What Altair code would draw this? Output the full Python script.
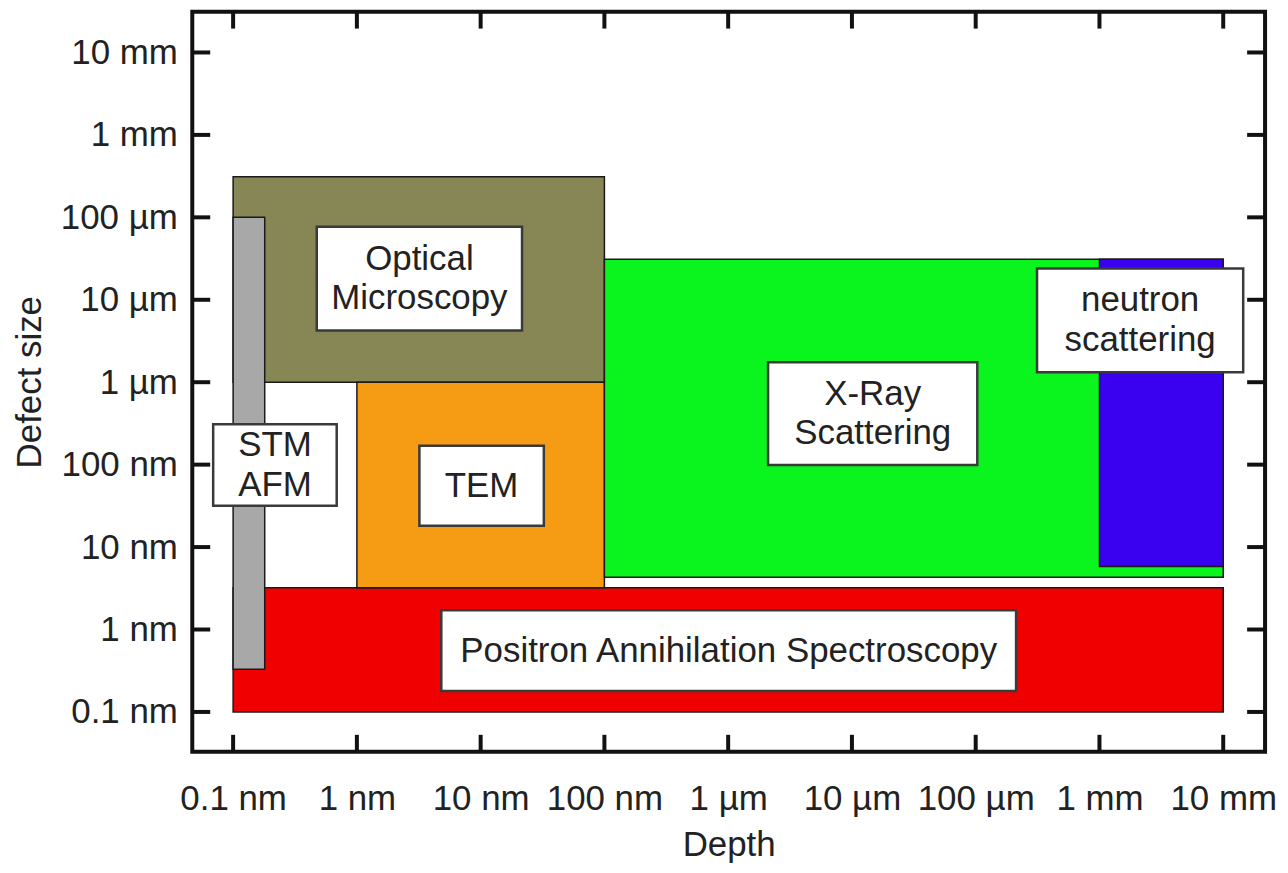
import altair as alt
import pandas as pd
import numpy as np

# ---- data (metres) ----
methods = ["Positron Annihilation Spectroscopy", "Optical Microscopy", "TEM",
           "X-Ray Scattering", "neutron scattering", "STM AFM"]
depth_min = [1e-10, 1e-10, 1e-9, 1e-7, 1e-3, 1e-10]
depth_max = [1e-2, 1e-7, 1e-7, 1e-2, 1e-2, 1.8e-10]
size_min = [1e-10, 1e-6, 3.2e-9, 4.3e-9, 5.8e-9, 3.3e-10]
size_max = [3.2e-9, 3.1e-4, 1e-6, 3.1e-5, 3.1e-5, 1e-4]
colors = ["#f00000", "#878756", "#f59b14", "#0af51e", "#3a00f0", "#a8a8a8"]

# label boxes (in data coordinates)
label_text = ["Positron Annihilation Spectroscopy", "Optical\nMicroscopy", "TEM",
              "X-Ray\nScattering", "neutron\nscattering", "STM\nAFM"]
label_lines = [1, 2, 1, 2, 2, 2]
box_x1 = [4.81e-9, 4.74e-10, 3.2e-9, 2.10e-6, 3.13e-4, 6.9e-11]
box_x2 = [2.12e-4, 2.16e-8, 3.24e-8, 1.03e-4, 1.45e-2, 6.87e-10]
box_y1 = [1.79e-10, 4.25e-6, 1.82e-8, 9.9e-8, 1.32e-6, 3.18e-8]
box_y2 = [1.71e-9, 7.67e-5, 1.69e-7, 1.75e-6, 2.39e-5, 3.10e-7]

tick_values = [1e-10, 1e-9, 1e-8, 1e-7, 1e-6, 1e-5, 1e-4, 1e-3, 1e-2]
tick_labels = ["0.1 nm", "1 nm", "10 nm", "100 nm", "1 µm", "10 µm", "100 µm", "1 mm", "10 mm"]

W, H = 1077, 743
FONT = "Liberation Sans"
TXT = "#222222"
FS = 35

rects = pd.DataFrame({"method": methods, "x1": depth_min, "x2": depth_max,
                      "y1": size_min, "y2": size_max, "color": colors})
boxes = pd.DataFrame({"label": label_text, "lines": label_lines, "x1": box_x1, "x2": box_x2,
                      "y1": box_y1, "y2": box_y2})
boxes["xc"] = np.sqrt(boxes["x1"] * boxes["x2"])
boxes["yc"] = np.sqrt(boxes["y1"] * boxes["y2"])
ticks = pd.DataFrame({"v": tick_values})

xscale = alt.Scale(type="log", domain=[10 ** -10.33, 10 ** -1.662], nice=False)
yscale = alt.Scale(type="log", domain=[10 ** -10.483, 10 ** -1.505], nice=False)

lbl_arr = "[" + ",".join("'%s'" % t for t in tick_labels) + "]"
lbl_expr = lbl_arr + "[round(log(datum.value)/LN10)+10]"

xaxis = alt.Axis(values=tick_values, labelExpr=lbl_expr, ticks=False, tickSize=0,
                 domain=False, grid=False, labelFont=FONT, labelFontSize=FS,
                 labelColor=TXT, labelPadding=30, labelOverlap=False, labelFlush=False,
                 title="Depth", titleFont=FONT, titleFontSize=FS, titleFontWeight="normal",
                 titleColor=TXT, titleBaseline="alphabetic", titleY=104)
yaxis = alt.Axis(values=tick_values, labelExpr=lbl_expr, ticks=False, tickSize=0,
                 domain=False, grid=False, labelFont=FONT, labelFontSize=FS,
                 labelColor=TXT, labelPadding=15, labelOverlap=False, labelFlush=False,
                 labelBaseline="middle",
                 title="Defect size", titleFont=FONT, titleFontSize=FS,
                 titleFontWeight="normal", titleColor=TXT, titleAngle=-90,
                 titleBaseline="alphabetic", titleX=-152, titleY=H / 2, titleAlign="center")


def X(field):
    return alt.X(field, type="quantitative", scale=xscale, axis=xaxis, title="Depth")


def Y(field):
    return alt.Y(field, type="quantitative", scale=yscale, axis=yaxis, title="Defect size")


base_rect = alt.Chart(rects).mark_rect(stroke="#1a1a1a", strokeWidth=1.5).encode(
    x=X("x1"), x2="x2:Q", y=Y("y1"), y2="y2:Q",
    color=alt.Color("color:N", scale=None),
)

box_layer = alt.Chart(boxes).mark_rect(fill="white", stroke="#3a3a3a", strokeWidth=2.5).encode(
    x=X("x1"), x2="x2:Q", y=Y("y1"), y2="y2:Q",
)

text_one = alt.Chart(boxes).transform_filter(alt.datum.lines == 1).mark_text(
    font=FONT, fontSize=FS, color=TXT, align="center", baseline="middle").encode(
    x=X("xc"), y=Y("yc"), text="label:N")

text_two = alt.Chart(boxes).transform_filter(alt.datum.lines == 2).mark_text(
    font=FONT, fontSize=FS, color=TXT, lineBreak="\n", lineHeight=40, dy=-20,
    align="center", baseline="middle").encode(
    x=X("xc"), y=Y("yc"), text="label:N")

tick_style = dict(color="#111111", strokeWidth=4)
bottom_ticks = alt.Chart(ticks).mark_rule(**tick_style).encode(
    x=X("v"), y=alt.value(H), y2=alt.value(H - 17))
top_ticks = alt.Chart(ticks).mark_rule(**tick_style).encode(
    x=X("v"), y=alt.value(0), y2=alt.value(17))
left_ticks = alt.Chart(ticks).mark_rule(**tick_style).encode(
    y=Y("v"), x=alt.value(0), x2=alt.value(18))
right_ticks = alt.Chart(ticks).mark_rule(**tick_style).encode(
    y=Y("v"), x=alt.value(W), x2=alt.value(W - 18))

# draw order: red, olive, orange, green, blue, gray
layers = []
for m in methods:
    layers.append(base_rect.transform_filter(alt.datum.method == m))

chart = alt.layer(*layers, box_layer, text_one, text_two,
                  bottom_ticks, top_ticks, left_ticks, right_ticks).properties(
    width=W, height=H,
    background="white",
    autosize=alt.AutoSizeParams(type="none"),
    padding={"left": 185, "top": 2, "right": 15, "bottom": 110},
).configure_view(stroke="#111111", strokeWidth=4)

chart.save("out.html", embed_options={"renderer": "svg", "actions": False})
